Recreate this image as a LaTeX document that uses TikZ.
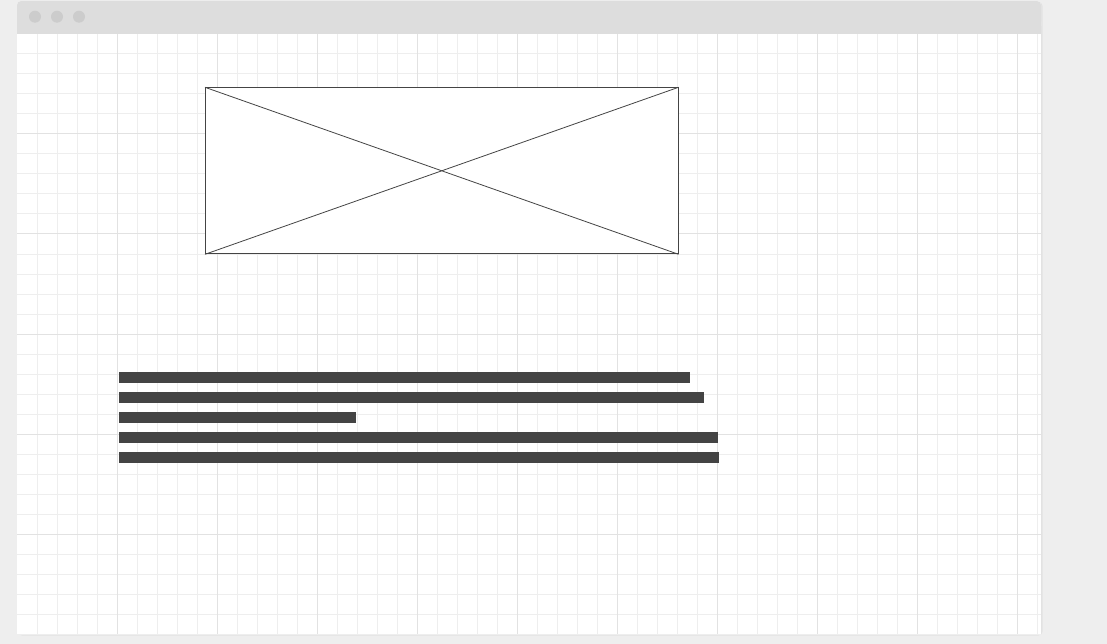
\documentclass[tikz,border=0pt]{standalone}
\usetikzlibrary{calc}
\definecolor{pagebg}{HTML}{EEEEEE}
\definecolor{titlebg}{HTML}{DDDDDD}
\definecolor{dotc}{HTML}{CCCCCC}
\definecolor{minorgrid}{HTML}{EEEEEE}
\definecolor{majorgrid}{HTML}{E2E2E2}
\definecolor{ink}{HTML}{444444}
\definecolor{shadowc}{HTML}{E2E2E2}
\tikzset{
  dotbtn/.style={circle, fill=dotc, inner sep=0pt, minimum size=12pt},
  textbar/.style={fill=ink, inner sep=0pt, minimum height=11pt, anchor=north west},
  imgbox/.style={draw=ink, line width=1pt, fill=white, inner sep=0pt, anchor=north west},
  minorline/.style={draw=minorgrid, line width=1pt},
  majorline/.style={draw=majorgrid, line width=1pt},
}
\begin{document}
\begin{tikzpicture}[x=1pt,y=-1pt]
\useasboundingbox (0,0) rectangle (1107,644);
\fill[pagebg] (0,0) rectangle (1107,644);
% window shadow
\fill[shadowc, rounded corners=4pt] (18,2) rectangle (1042.5,635.5);
% window body
\fill[white, rounded corners=4pt] (17,1) rectangle (1041,30);
\fill[white] (17,20) rectangle (1041,634);
% grid
\foreach \x in {37,57,...,1037} {\draw[minorline] (\x,34) -- (\x,634);}
\foreach \y in {54,74,...,634} {\draw[minorline] (17,\y) -- (1041,\y);}
\foreach \x in {117,217,...,1017} {\draw[majorline] (\x,34) -- (\x,634);}
\foreach \y in {134,234,...,534} {\draw[majorline] (17,\y) -- (1041,\y);}
% title bar
\fill[titlebg, rounded corners=4pt] (17,1) rectangle (1041,25);
\fill[titlebg] (17,15) rectangle (1041,33.8);
\node[dotbtn] (d1) at (35,16.7) {};
\node[dotbtn] (d2) at (57,16.7) {};
\node[dotbtn] (d3) at (79,16.7) {};
% image placeholder
\node[imgbox, minimum width=472.5pt, minimum height=166pt] (img) at (205,87.3) {};
\draw[ink, line width=0.8pt] (img.north west) -- (img.south east);
\draw[ink, line width=0.8pt] (img.south west) -- (img.north east);
% text bars
\node[textbar, minimum width=571pt] (b1) at (119,372) {};
\node[textbar, minimum width=585pt] (b2) at (119,392) {};
\node[textbar, minimum width=237pt] (b3) at (119,412) {};
\node[textbar, minimum width=599pt] (b4) at (119,432) {};
\node[textbar, minimum width=600pt] (b5) at (119,452) {};
\end{tikzpicture}
\end{document}
